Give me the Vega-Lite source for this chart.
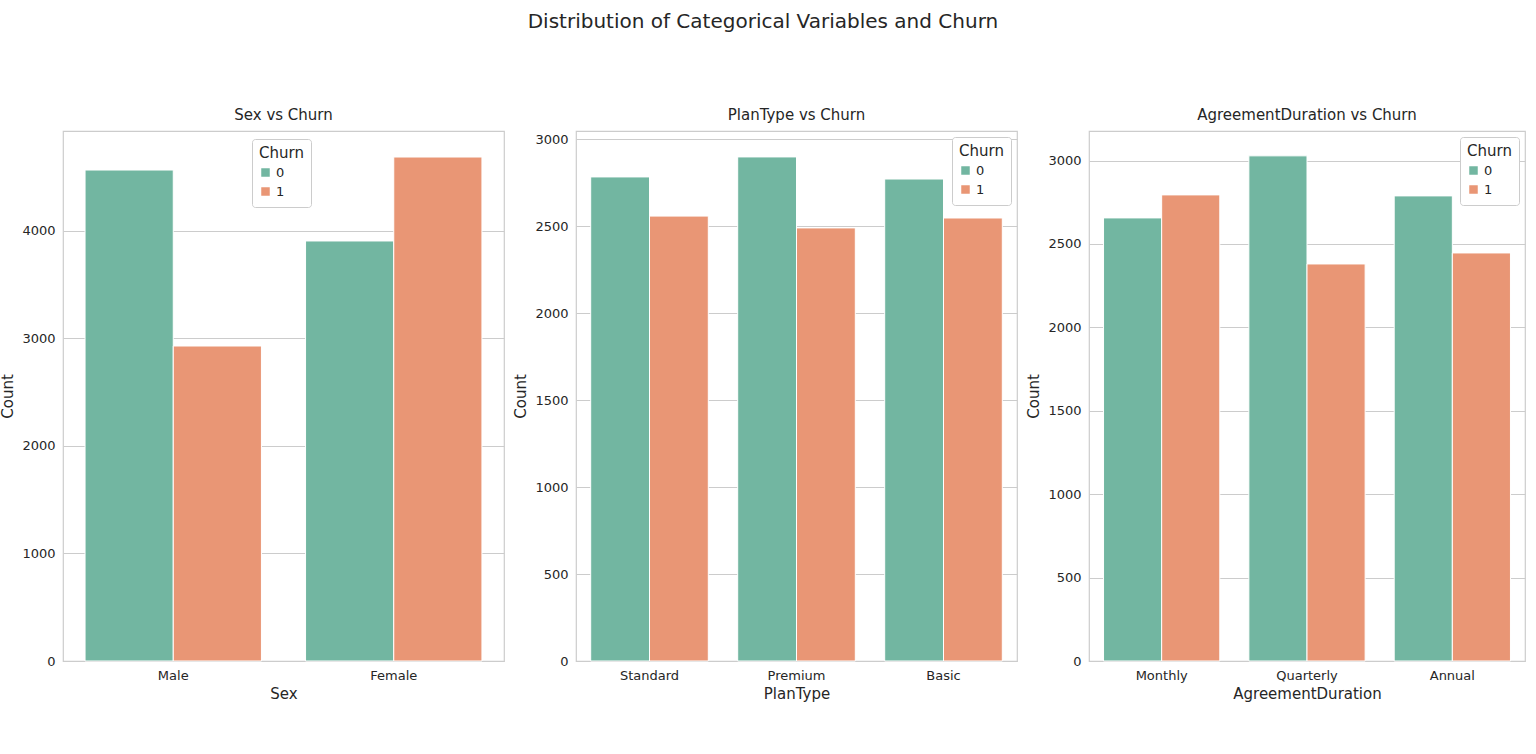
{
  "$schema": "https://vega.github.io/schema/vega-lite/v6.json",
  "padding": {"left": 0, "top": 12, "right": 5, "bottom": 5},
  "title": {"text": "Distribution of Categorical Variables and Churn", "fontSize": 20, "font": "DejaVu Sans", "fontWeight": "normal", "color": "#262626", "offset": 75, "anchor": "middle"},
  "config": {
    "font": "DejaVu Sans",
    "view": {"stroke": "#cccccc", "strokeWidth": 1.2},
    "axis": {"labelFontSize": 13, "titleFontSize": 15, "titleFontWeight": "normal", "labelColor": "#262626", "titleColor": "#262626", "ticks": false, "domain": false, "labelPadding": 8},
    "axisY": {"gridColor": "#cccccc", "titlePadding": 6, "format": "d"},
    "axisX": {"grid": false, "labelAngle": 0, "titlePadding": 4},
    "legend": {"titleFontSize": 15, "labelFontSize": 13, "titleFontWeight": "normal", "strokeColor": "#cccccc", "fillColor": "white", "padding": 7, "symbolType": "square", "cornerRadius": 3, "labelColor": "#262626", "titleColor": "#262626"},
    "title": {"fontSize": 15, "fontWeight": "normal", "color": "#262626", "offset": 8},
    "concat": {"spacing": 8}
  },
  "resolve": {"scale": {"color": "independent", "y": "independent", "x": "independent", "xOffset": "independent"}},
  "hconcat": [
    {
      "title": "Sex vs Churn",
      "width": 441, "height": 530,
      "data": {"values": [
        {"cat": "Male", "Churn": "0", "Count": 4567},
        {"cat": "Male", "Churn": "1", "Count": 2930},
        {"cat": "Female", "Churn": "0", "Count": 3907},
        {"cat": "Female", "Churn": "1", "Count": 4688}
      ]},
      "mark": {"type": "bar", "stroke": "white", "strokeWidth": 1},
      "encoding": {
        "x": {"field": "cat", "type": "nominal", "sort": ["Male", "Female"], "title": "Sex", "scale": {"paddingInner": 0.2, "paddingOuter": 0.1}},
        "xOffset": {"field": "Churn", "type": "nominal"},
        "y": {"field": "Count", "type": "quantitative", "title": "Count", "scale": {"domain": [0, 4930], "nice": false}, "axis": {"values": [0, 1000, 2000, 3000, 4000]}},
        "color": {"field": "Churn", "type": "nominal", "scale": {"range": ["#72b6a1", "#e99675"]}, "legend": {"orient": "none", "legendX": 189, "legendY": 8}}
      }
    },
    {
      "title": "PlanType vs Churn",
      "width": 441, "height": 530,
      "data": {"values": [
        {"cat": "Standard", "Churn": "0", "Count": 2782},
        {"cat": "Standard", "Churn": "1", "Count": 2557},
        {"cat": "Premium", "Churn": "0", "Count": 2897},
        {"cat": "Premium", "Churn": "1", "Count": 2489},
        {"cat": "Basic", "Churn": "0", "Count": 2770},
        {"cat": "Basic", "Churn": "1", "Count": 2546}
      ]},
      "mark": {"type": "bar", "stroke": "white", "strokeWidth": 1},
      "encoding": {
        "x": {"field": "cat", "type": "nominal", "sort": ["Standard", "Premium", "Basic"], "title": "PlanType", "scale": {"paddingInner": 0.2, "paddingOuter": 0.1}},
        "xOffset": {"field": "Churn", "type": "nominal"},
        "y": {"field": "Count", "type": "quantitative", "title": "Count", "scale": {"domain": [0, 3046], "nice": false}, "axis": {"values": [0, 500, 1000, 1500, 2000, 2500, 3000]}},
        "color": {"field": "Churn", "type": "nominal", "scale": {"range": ["#72b6a1", "#e99675"]}, "legend": {"orient": "top-right", "offset": 6}}
      }
    },
    {
      "title": "AgreementDuration vs Churn",
      "width": 436, "height": 530,
      "data": {"values": [
        {"cat": "Monthly", "Churn": "0", "Count": 2656},
        {"cat": "Monthly", "Churn": "1", "Count": 2794},
        {"cat": "Quarterly", "Churn": "0", "Count": 3028},
        {"cat": "Quarterly", "Churn": "1", "Count": 2380},
        {"cat": "Annual", "Churn": "0", "Count": 2788},
        {"cat": "Annual", "Churn": "1", "Count": 2446}
      ]},
      "mark": {"type": "bar", "stroke": "white", "strokeWidth": 1},
      "encoding": {
        "x": {"field": "cat", "type": "nominal", "sort": ["Monthly", "Quarterly", "Annual"], "title": "AgreementDuration", "scale": {"paddingInner": 0.2, "paddingOuter": 0.1}},
        "xOffset": {"field": "Churn", "type": "nominal"},
        "y": {"field": "Count", "type": "quantitative", "title": "Count", "scale": {"domain": [0, 3177], "nice": false}, "axis": {"values": [0, 500, 1000, 1500, 2000, 2500, 3000]}},
        "color": {"field": "Churn", "type": "nominal", "scale": {"range": ["#72b6a1", "#e99675"]}, "legend": {"orient": "top-right", "offset": 6}}
      }
    }
  ]
}
